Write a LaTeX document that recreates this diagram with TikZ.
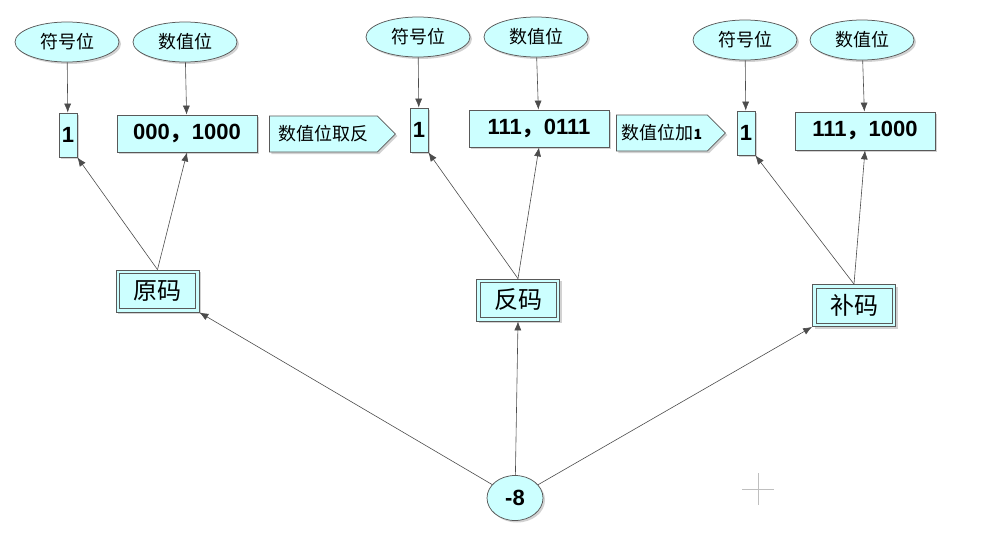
\documentclass[tikz,border=0pt]{standalone}
\usepackage{fontspec}
\setmainfont{Liberation Sans}
\newfontfamily\cjk{Noto Sans CJK SC}
\usetikzlibrary{shadows,shapes.arrows,shapes.geometric,arrows.meta}
\definecolor{boxcyan}{RGB}{204,255,255}
\tikzset{every picture/.style={line width=0.75pt}}
\tikzset{
  bitlabel/.style={ellipse,draw=gray!70!black,fill=boxcyan,drop shadow={shadow xshift=2pt,shadow yshift=-2pt,fill=gray!70},minimum width=104pt,minimum height=40pt,font=\cjk\fontsize{18}{18}\selectfont},
  bitbox/.style={rectangle,draw=gray!70!black,fill=boxcyan,drop shadow={shadow xshift=2pt,shadow yshift=-2pt,fill=gray!70},font=\bfseries\fontsize{22}{22}\selectfont,inner sep=0pt},
  codebox/.style={rectangle,draw=gray!70!black,fill=boxcyan,drop shadow={shadow xshift=2pt,shadow yshift=-2pt,fill=gray!70},minimum width=83pt,minimum height=42pt,font=\cjk\fontsize{24}{24}\selectfont},
  innerframe/.style={draw=gray!70!black,line width=0.75pt},
  steparrow/.style={single arrow,draw=gray!70!black,fill=boxcyan,drop shadow={shadow xshift=2pt,shadow yshift=-2pt,fill=gray!70},minimum height=#1,minimum width=36pt,single arrow head extend=0pt,single arrow tip angle=90,inner sep=1pt,font=\cjk\fontsize{18}{18}\selectfont},
  link/.style={draw=gray!60!black,line width=0.6pt,-{Latex[length=9pt,width=7pt]}},
}
\newcommand{\cm}{{\cjk ，}}
\begin{document}
\begin{tikzpicture}[x=1pt,y=1pt,yscale=-1]
\useasboundingbox (0,0) rectangle (996,541);

% left group
\node[bitlabel] (signA) at (67,42) {符号位};
\node[bitlabel] (valA) at (185,42) {数值位};
\node[bitbox,minimum width=18pt,minimum height=44pt] (bitA) at (68,135) {1};
\node[bitbox,minimum width=140pt,minimum height=37pt] (numA) at (187,133.5) {000\cm 1000};
\node[steparrow=126pt,anchor=west] (invert) at (269,134) {数值位取反\hspace{14pt}};
\node[codebox] (origin) at (157.5,291) {原码};
\draw[innerframe] ([shift={(4,4)}]origin.north west) rectangle ([shift={(-4,-4)}]origin.south east);

% middle group
\node[bitlabel] (signB) at (418,37) {符号位};
\node[bitlabel] (valB) at (536,37) {数值位};
\node[bitbox,minimum width=18pt,minimum height=44pt] (bitB) at (419,130) {1};
\node[bitbox,minimum width=140pt,minimum height=37pt] (numB) at (539,128.5) {111\cm 0111};
\node[steparrow=109pt,anchor=west] (addone) at (616,133) {数值位加{\fontsize{14}{14}\selectfont\bfseries 1}\hspace{12pt}};
\node[codebox] (ones) at (518,300) {反码};
\draw[innerframe] ([shift={(4,4)}]ones.north west) rectangle ([shift={(-4,-4)}]ones.south east);

% right group
\node[bitlabel] (signC) at (745,40) {符号位};
\node[bitlabel] (valC) at (862,40) {数值位};
\node[bitbox,minimum width=18pt,minimum height=44pt] (bitC) at (746,133) {1};
\node[bitbox,minimum width=140pt,minimum height=38pt] (numC) at (865,131) {111\cm 1000};
\node[codebox] (twos) at (854,305.5) {补码};
\draw[innerframe] ([shift={(4,4)}]twos.north west) rectangle ([shift={(-4,-4)}]twos.south east);

% root
\node[bitlabel,minimum width=56pt,minimum height=45pt,font=\bfseries\fontsize{22}{22}\selectfont] (root) at (515,498) {-8};
\draw[gray!50,line width=0.6pt] (742,489) -- (774,489) (758,473) -- (758,505);

% connectors
\draw[link] (signA) -- (bitA);
\draw[link] (valA) -- (numA);
\draw[link] (signB) -- (bitB);
\draw[link] (valB) -- (numB);
\draw[link] (signC) -- (bitC);
\draw[link] (valC) -- (numC);
\draw[link] (origin.north) -- (bitA.south east);
\draw[link] (origin.north) -- (numA.south);
\draw[link] (ones.north) -- (bitB.south east);
\draw[link] (ones.north) -- (numB.south);
\draw[link] (twos.north) -- (bitC.south east);
\draw[link] (twos.north) -- (numC.south);
\draw[link] (root) -- (origin.south east);
\draw[link] (root) -- (ones.south);
\draw[link] (root) -- (twos.south west);

\end{tikzpicture}
\end{document}
